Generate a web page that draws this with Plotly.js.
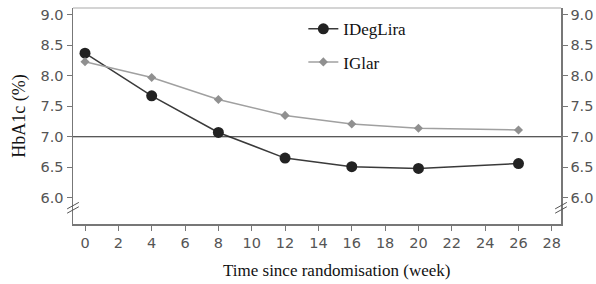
<!DOCTYPE html>
<html><head><meta charset="utf-8">
<script src="https://cdn.plot.ly/plotly-3.0.1.min.js"></script>
<style>html,body{margin:0;padding:0;background:#fff}#c{width:596px;height:284px}</style>
</head><body><div id="c"></div>
<script>
const weeks = [0, 4, 8, 12, 16, 20, 26];
const idegLira = [8.37, 7.67, 7.07, 6.65, 6.51, 6.48, 6.56];
const iGlar = [8.23, 7.97, 7.61, 7.35, 7.21, 7.14, 7.11];
const yTicks = [6.0, 6.5, 7.0, 7.5, 8.0, 8.5, 9.0];
const yTickText = ['6.0', '6.5', '7.0', '7.5', '8.0', '8.5', '9.0'];
const xTicks = [0, 2, 4, 6, 8, 10, 12, 14, 16, 18, 20, 22, 24, 26, 28];
const refLine = 7.0;

const tickFont = {family: 'DejaVu Sans', size: 14.5, color: '#555'};
const serif = 'Liberation Serif';

const traces = [
  {x: weeks, y: idegLira, name: 'IDegLira', mode: 'lines+markers', legendgroup: 'a',
   line: {color: '#3a3a3a', width: 1.5},
   marker: {color: '#222', size: 11, symbol: 'circle'}},
  {x: weeks, y: iGlar, name: 'IGlar', mode: 'lines+markers', legendgroup: 'b',
   line: {color: '#a0a0a0', width: 1.5},
   marker: {color: '#909090', size: 7, symbol: 'diamond'}},
  {x: weeks, y: iGlar, yaxis: 'y2', mode: 'none', showlegend: false, hoverinfo: 'skip'}
];

const yr = [5.57, 9.11];
const layout = {
  width: 596, height: 284,
  margin: {l: 73, r: 35, t: 8, b: 60},
  paper_bgcolor: '#fff', plot_bgcolor: '#fff',
  showlegend: true,
  legend: {x: 0.472, y: 0.985, xanchor: 'left', yanchor: 'top', bgcolor: 'rgba(0,0,0,0)',
           font: {family: serif, size: 17, color: '#111'}, itemwidth: 30, tracegroupgap: 8},
  xaxis: {range: [-0.72, 28.55], tickvals: xTicks, ticks: 'outside', ticklen: 5,
          tickcolor: '#777', showline: true, linecolor: '#777', linewidth: 1.5,
          showgrid: false, zeroline: false, tickfont: tickFont},
  yaxis: {range: yr, tickvals: yTicks, ticktext: yTickText, ticks: 'outside', ticklen: 5,
          tickcolor: '#777', showline: true, linecolor: '#777', linewidth: 1.5,
          showgrid: false, zeroline: false, tickfont: tickFont,
          title: {text: 'HbA1c (%)', font: {family: serif, size: 18, color: '#111'}, standoff: 10}},
  yaxis2: {range: yr, overlaying: 'y', side: 'right', tickvals: yTicks, ticktext: yTickText,
           ticks: 'outside', ticklen: 5, tickcolor: '#777', showline: true, linecolor: '#777',
           linewidth: 1.5, showgrid: false, zeroline: false, tickfont: tickFont},
  shapes: [
    {type: 'line', xref: 'paper', yref: 'y', x0: 0, x1: 1, y0: refLine, y1: refLine,
     line: {color: '#222', width: 1.2}},
    {type: 'line', xref: 'paper', yref: 'paper', x0: 0, x1: 1, y0: 1, y1: 1,
     line: {color: '#aaa', width: 1.2}},
    {type: 'line', xref: 'paper', yref: 'paper', x0: -0.012, x1: 0.012, y0: 0.07, y1: 0.10,
     line: {color: '#555', width: 1}},
    {type: 'line', xref: 'paper', yref: 'paper', x0: -0.012, x1: 0.012, y0: 0.05, y1: 0.08,
     line: {color: '#555', width: 1}},
    {type: 'line', xref: 'paper', yref: 'paper', x0: 0.988, x1: 1.012, y0: 0.07, y1: 0.10,
     line: {color: '#555', width: 1}},
    {type: 'line', xref: 'paper', yref: 'paper', x0: 0.988, x1: 1.012, y0: 0.05, y1: 0.08,
     line: {color: '#555', width: 1}}
  ],
  annotations: [
    {text: 'Time since randomisation (week)', xref: 'paper', yref: 'paper', x: 0.539, y: -0.213,
     xanchor: 'center', yanchor: 'middle', showarrow: false,
     font: {family: serif, size: 17, color: '#111'}}
  ]
};
Plotly.newPlot('c', traces, layout, {displayModeBar: false, staticPlot: true});
</script>
</body></html>
